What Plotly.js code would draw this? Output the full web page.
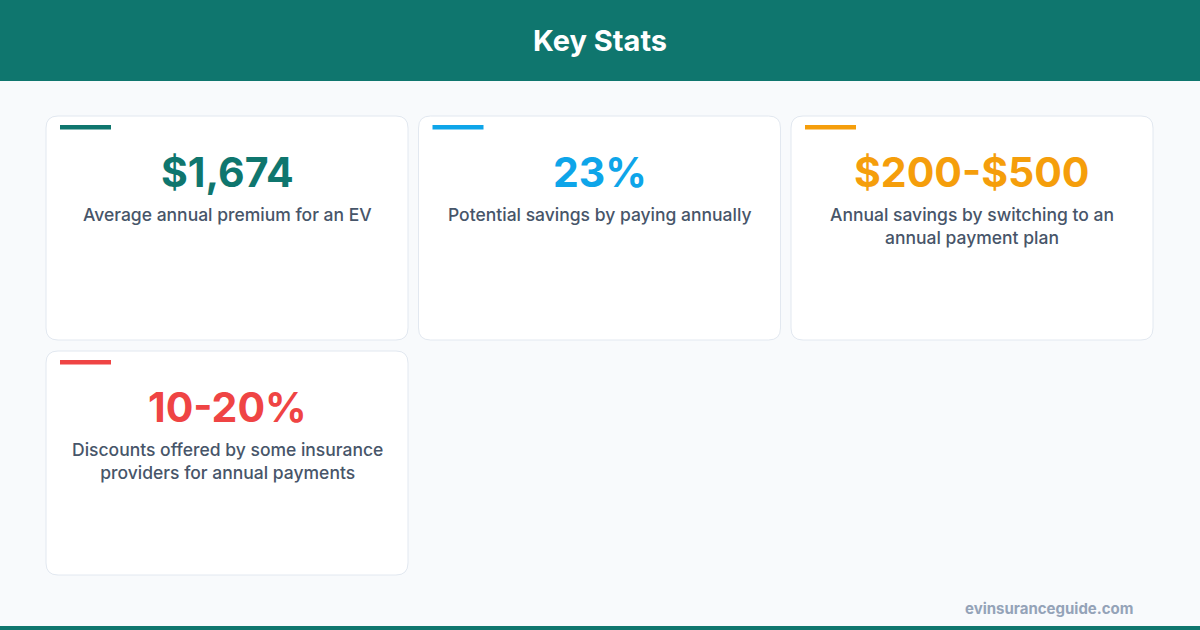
<!DOCTYPE html>
<html>
<head>
<meta charset="utf-8">
<script src="https://cdn.plot.ly/plotly-3.0.1.min.js"></script>
<style>
html, body { margin: 0; padding: 0; background: #f8fafc; }
#stats { width: 1200px; height: 630px; }
</style>
</head>
<body>
<div id="stats"></div>
<script>
var title = 'Key Stats';
var footer = 'evinsuranceguide.com';

/* stat values and captions */
var values = ['$1,674', '23%', '$200-$500', '10-20%'];
var labels = [
  'Average annual premium for an EV',
  'Potential savings by paying annually',
  'Annual savings by switching to an<br>annual payment plan',
  'Discounts offered by some insurance<br>providers for annual payments'
];
var colors = ['#0f766e', '#0ea5e9', '#f59e0b', '#ef4444'];

var W = 1200, H = 630;
var cardW = 362, cardH = 224, gap = 11, left = 46, top0 = 116;

function roundRect(x0, y0, x1, y1, r) {
  return 'M' + (x0 + r) + ',' + y0 + ' L' + (x1 - r) + ',' + y0 +
    ' Q' + x1 + ',' + y0 + ' ' + x1 + ',' + (y0 + r) +
    ' L' + x1 + ',' + (y1 - r) +
    ' Q' + x1 + ',' + y1 + ' ' + (x1 - r) + ',' + y1 +
    ' L' + (x0 + r) + ',' + y1 +
    ' Q' + x0 + ',' + y1 + ' ' + x0 + ',' + (y1 - r) +
    ' L' + x0 + ',' + (y0 + r) +
    ' Q' + x0 + ',' + y0 + ' ' + (x0 + r) + ',' + y0 + ' Z';
}

var shapes = [
  // header band
  {type: 'rect', xref: 'x', yref: 'y', x0: 0, x1: W, y0: 0, y1: 81,
   fillcolor: '#0f766e', line: {width: 0}, layer: 'below'},
  // bottom band
  {type: 'rect', xref: 'x', yref: 'y', x0: 0, x1: W, y0: 626, y1: H,
   fillcolor: '#0f766e', line: {width: 0}, layer: 'below'}
];
var annotations = [
  {text: '<b>' + title + '</b>', x: W / 2, y: 40.5, xref: 'x', yref: 'y',
   showarrow: false, font: {size: 29, color: '#ffffff', family: 'Inter, sans-serif'}},
  {text: '<b>' + footer + '</b>', x: 1136, y: 608, xref: 'x', yref: 'y',
   xanchor: 'right', showarrow: false,
   font: {size: 15, color: '#94a3b8', family: 'Inter, sans-serif'}}
];

values.forEach(function (v, i) {
  var col = i % 3, row = Math.floor(i / 3);
  var x0 = left + col * (cardW + gap - 0.5);
  var y0 = top0 + row * (cardH + gap);
  var cx = x0 + cardW / 2;
  shapes.push({type: 'path', xref: 'x', yref: 'y',
    path: roundRect(x0, y0, x0 + cardW, y0 + cardH, 12),
    fillcolor: '#ffffff', line: {color: '#e2e8f0', width: 1}, layer: 'below'});
  shapes.push({type: 'rect', xref: 'x', yref: 'y',
    x0: x0 + 14, x1: x0 + 65, y0: y0 + 9, y1: y0 + 13.5,
    fillcolor: colors[i], line: {width: 0}, layer: 'below'});
  annotations.push({text: '<b>' + v + '</b>', x: cx, y: y0 + 56,
    xref: 'x', yref: 'y', showarrow: false,
    font: {size: 41, color: colors[i], family: 'Inter, sans-serif'}});
  annotations.push({text: labels[i], x: cx, y: y0 + 86,
    xref: 'x', yref: 'y', yanchor: 'top', showarrow: false, align: 'center',
    font: {size: 17.5, color: '#475569', family: 'Inter, sans-serif', weight: 500}});
});

var layout = {
  width: W, height: H,
  margin: {l: 0, r: 0, t: 0, b: 0},
  paper_bgcolor: '#f8fafc', plot_bgcolor: '#f8fafc',
  xaxis: {range: [0, W], visible: false, fixedrange: true},
  yaxis: {range: [H, 0], visible: false, fixedrange: true},
  showlegend: false,
  shapes: shapes,
  annotations: annotations
};

Plotly.newPlot('stats', [{x: [], y: [], type: 'scatter'}], layout, {displayModeBar: false, staticPlot: true});
</script>
</body>
</html>
